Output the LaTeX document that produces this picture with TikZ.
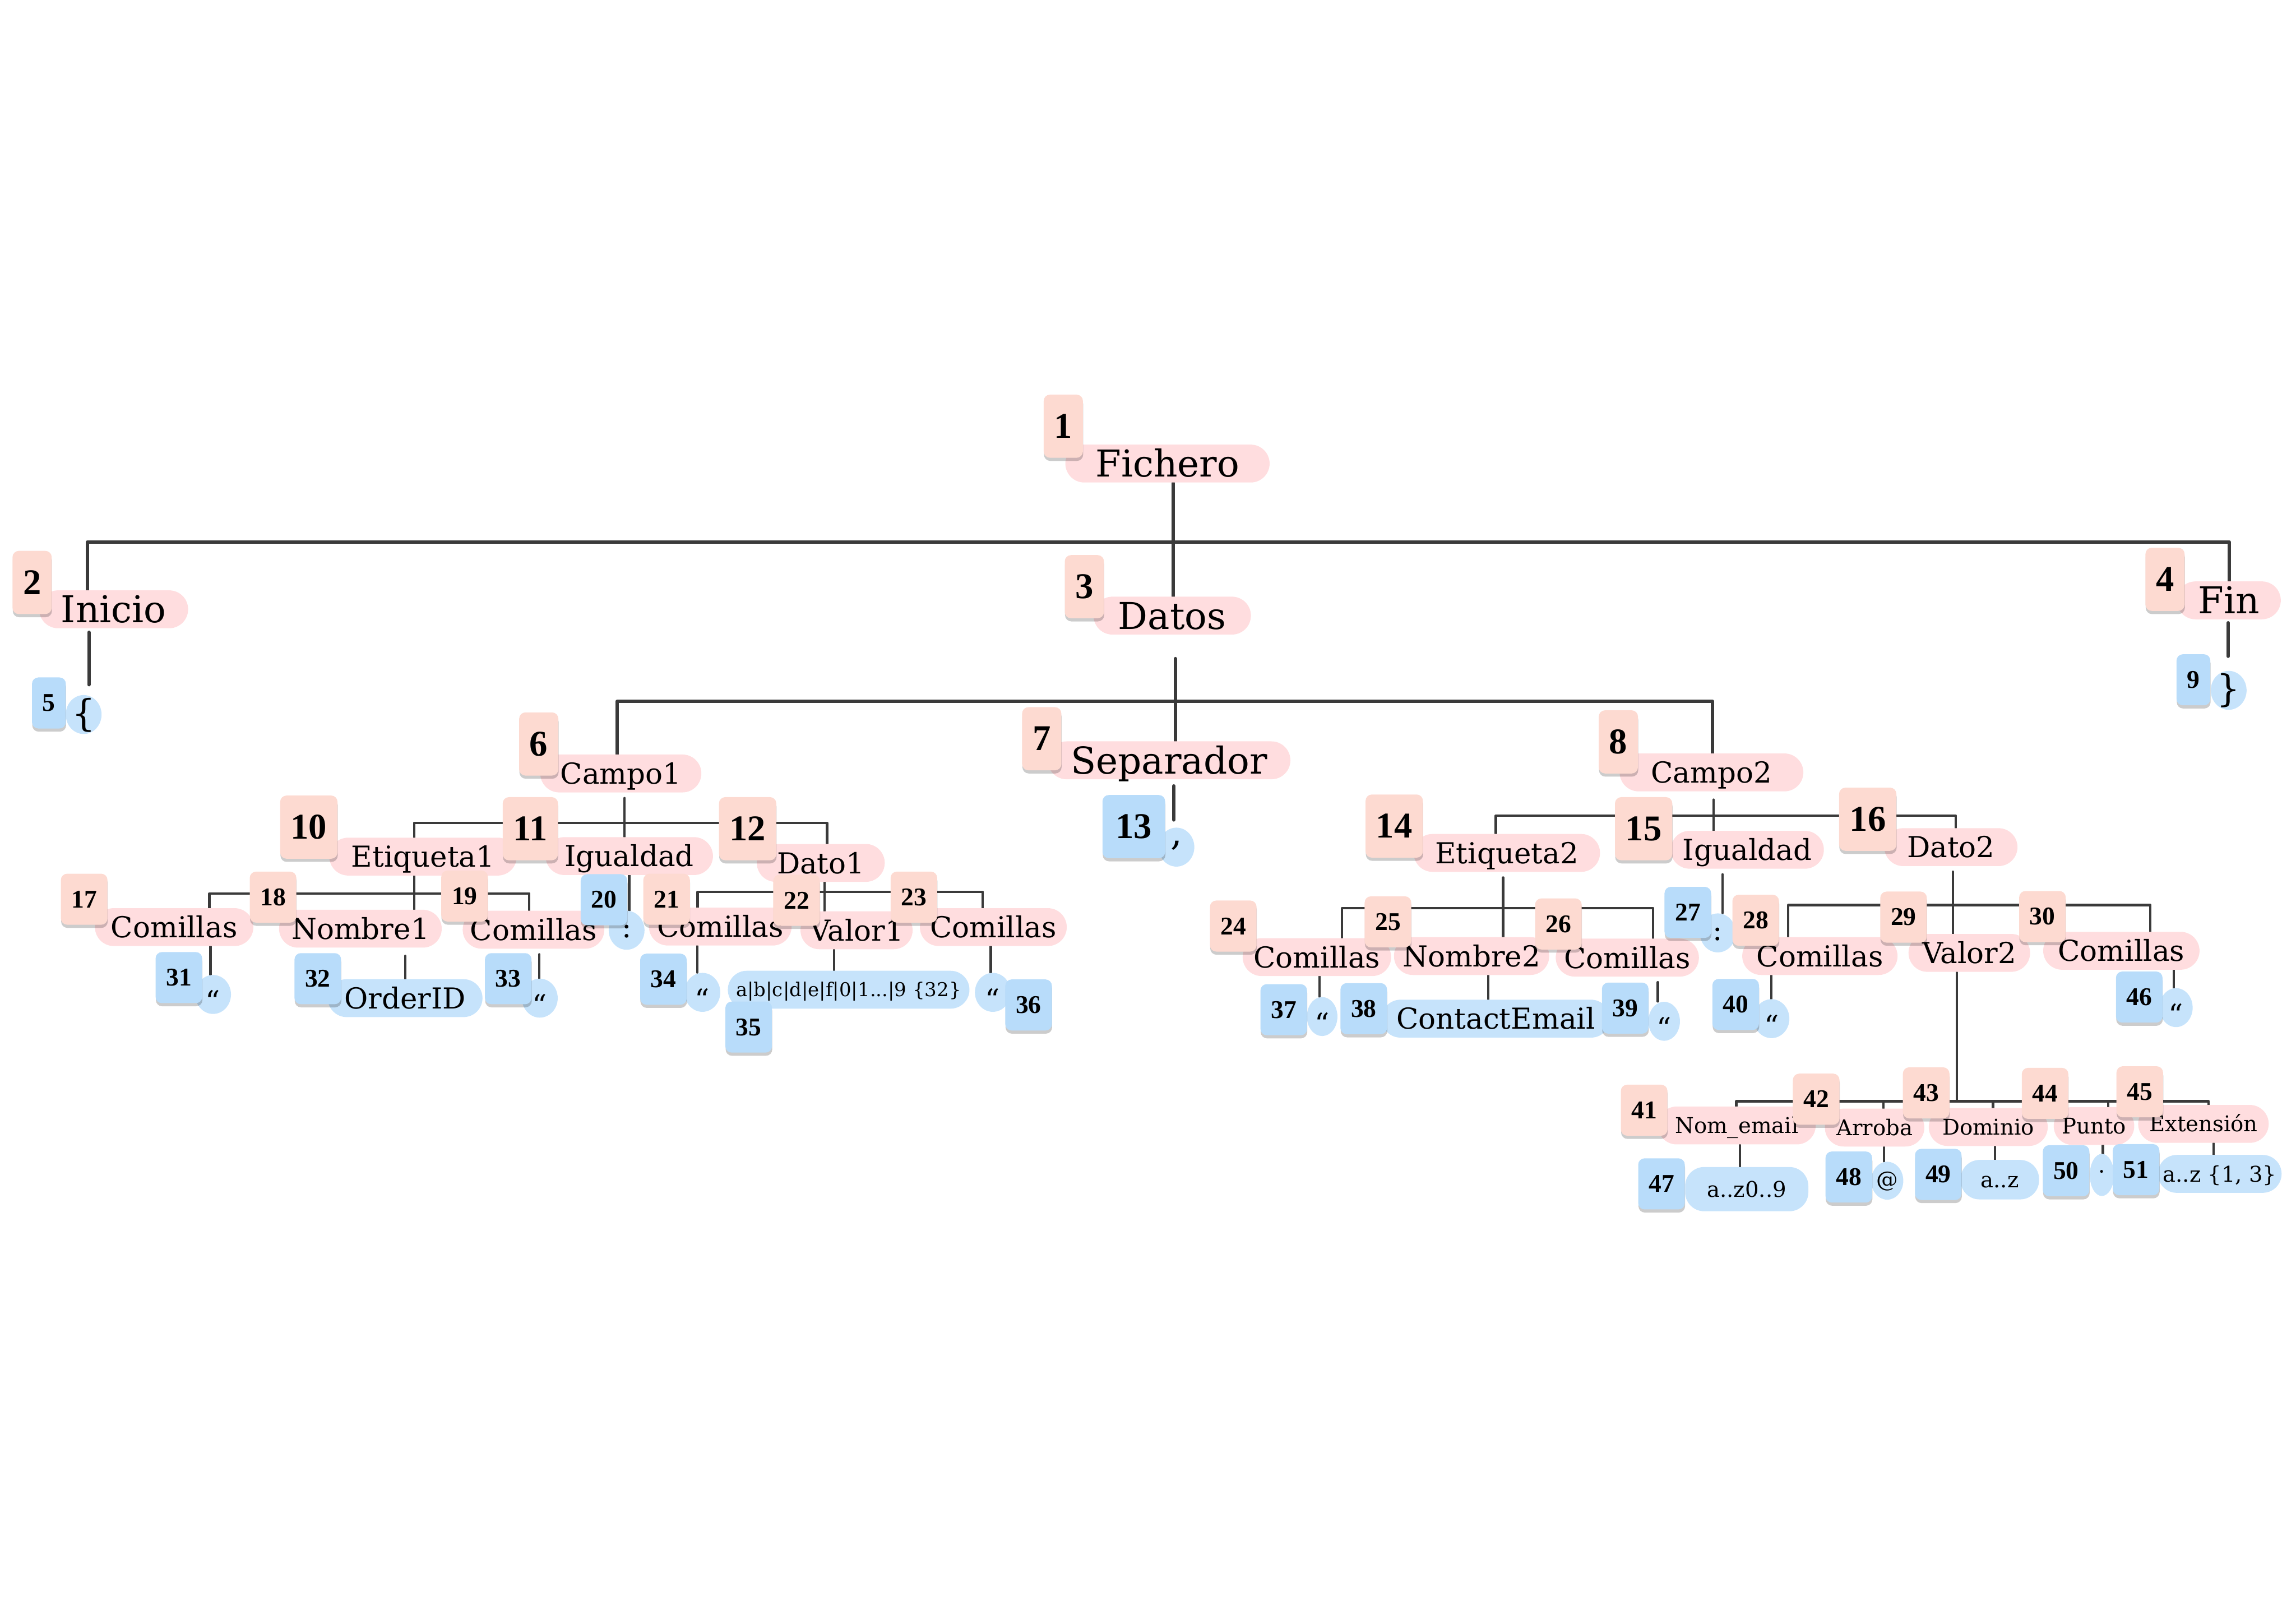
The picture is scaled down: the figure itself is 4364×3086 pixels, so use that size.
\documentclass[tikz,border=0pt]{standalone}
\usepackage{fontspec}
\setmainfont{DejaVu Serif}
\newfontfamily\numf{Liberation Serif}
\usetikzlibrary{shadows,shapes.geometric,backgrounds}
\definecolor{linec}{HTML}{3A3A3A}
\definecolor{bsal}{HTML}{FDDAD1}
\definecolor{ppink}{HTML}{FFDDDF}
\definecolor{bblue}{HTML}{B8DCFA}
\definecolor{pblue}{HTML}{C6E3FB}
\newcommand\fL{\fontsize{20pt}{24pt}\selectfont}
\newcommand\fM{\fontsize{15.6pt}{18pt}\selectfont}
\newcommand\fS{\fontsize{11.7pt}{14pt}\selectfont}
\newcommand\fXS{\fontsize{10.3pt}{12pt}\selectfont}
\newcommand\nL{\numf\bfseries\fontsize{19.6pt}{22pt}\selectfont}
\newcommand\nS{\numf\bfseries\fontsize{13.8pt}{16pt}\selectfont}
\newcommand\cc[2]{\raisebox{#1}{#2}}
\begin{document}
\begin{tikzpicture}[x=0.01cm,y=-0.01cm,
  pill/.style={rounded corners=0.36cm, minimum height=0.72cm, inner xsep=0.05cm, inner ysep=0pt, text depth=0pt},
  pL/.style={pill, fill=ppink, font=\fL, text height=0.51cm},
  pM/.style={pill, fill=ppink, font=\fM, text height=0.40cm},
  pS/.style={pill, fill=ppink, font=\fS, text height=0.30cm},
  lM/.style={pill, fill=pblue, font=\fM, text height=0.40cm},
  lS/.style={pill, fill=pblue, font=\fS, text height=0.30cm},
  lXS/.style={pill, fill=pblue, font=\fXS, text height=0.26cm},
  dotbase/.style={ellipse, fill=pblue, inner sep=0pt, minimum width=0.68cm, minimum height=0.74cm, text height=0pt, text depth=0pt},
  dotL/.style={dotbase, font=\fL},
  dotM/.style={dotbase, font=\fM},
  dotS/.style={dotbase, font=\fS},
  badge/.style={rounded corners=0.12cm, inner xsep=0.2cm, inner ysep=0pt,
    drop shadow={shadow xshift=0.005cm, shadow yshift=-0.06cm, opacity=0.2, fill=black}},
  bL/.style={badge, fill=bsal, minimum height=1.2cm, font=\nL},
  bS/.style={badge, fill=bsal, minimum height=0.97cm, font=\nS},
  bLb/.style={bL, fill=bblue},
  bSb/.style={bS, fill=bblue},
  cn/.style={draw=linec, line width=0.065cm, line cap=round, line join=round},
  ct/.style={draw=linec, line width=0.045cm, line cap=round, line join=round}
]
\useasboundingbox (0,0) rectangle (4364,3086);

% ---------- label pills ----------
\node[pL, minimum width=3.88cm] (p1) at (2219,881) {Fichero};
\node[pL, minimum width=2.83cm] (p2) at (216,1158) {Inicio};
\node[pL, minimum width=2.99cm] (p3) at (2228,1170) {Datos};
\node[pL, minimum width=1.98cm] (p4) at (4236,1141) {Fin};
\node[pL, minimum width=4.61cm] (p7) at (2222,1445) {Separador};
\node[pM, minimum width=3.06cm] (p6) at (1180,1470) {Campo1};
\node[pM, minimum width=3.49cm] (p8) at (3253,1468) {Campo2};
\node[pM, minimum width=3.56cm] (p10) at (804,1628) {Etiqueta1};
\node[pM, minimum width=3.18cm] (p11) at (1196,1627) {Igualdad};
\node[pM, minimum width=2.43cm] (p12) at (1560,1640) {Dato1};
\node[pM, minimum width=3.54cm] (p14) at (2864,1621) {Etiqueta2};
\node[pM, minimum width=2.91cm] (p15) at (3321,1615) {Igualdad};
\node[pM, minimum width=2.53cm] (p16) at (3708,1610) {Dato2};
\node[pM, minimum width=3.01cm] (p17) at (331,1762) {Comillas};
\node[pM, minimum width=3.09cm] (p18) at (685,1765) {Nombre1};
\node[pM, minimum width=2.69cm] (p19) at (1014,1767) {Comillas};
\node[pM, minimum width=2.71cm] (p21) at (1369,1761) {Comillas};
\node[pM, minimum width=2.13cm] (p22) at (1628,1768) {Valor1};
\node[pM, minimum width=2.79cm] (p23) at (1888,1762) {Comillas};
\node[pM, minimum width=2.82cm] (p24) at (2503,1819) {Comillas};
\node[pM, minimum width=2.95cm] (p25) at (2797,1817) {Nombre2};
\node[pM, minimum width=2.72cm] (p26) at (3093,1820) {Comillas};
\node[pM, minimum width=2.95cm] (p28) at (3459,1817) {Comillas};
\node[pM, minimum width=2.31cm] (p29) at (3743,1811) {Valor2};
\node[pM, minimum width=2.97cm] (p30) at (4032,1807) {Comillas};
\node[pS, minimum width=3.00cm] (p41) at (3301,2139) {Nom\_email};
\node[pS, minimum width=1.89cm] (p42) at (3563,2143) {Arroba};
\node[pS, minimum width=2.26cm] (p43) at (3779,2142) {Dominio};
\node[pS, minimum width=1.53cm] (p44) at (3980,2140) {Punto};
\node[pS, minimum width=2.48cm] (p45) at (4188,2136) {Extensión};

% ---------- terminal pills ----------
\node[lM, minimum width=2.94cm] (l32) at (770,1897) {OrderID};
\node[lM, minimum width=4.34cm] (l38) at (2843,1936) {ContactEmail};
\node[lXS, minimum width=4.59cm] (l35) at (1613,1881) {a|b|c|d|e|f|0|1...|9 \{32\}};
\node[lS, minimum width=2.34cm, minimum height=0.84cm] (l47) at (3320,2260) {a..z0..9};
\node[lS, minimum width=1.49cm, minimum height=0.75cm] (l49) at (3801,2242) {a..z};
\node[lS, minimum width=2.35cm] (l51) at (4219,2231) {a..z \{1, 3\}};

\node[dotL] (l5) at (159,1358) {\cc{-0.31em}{\{}};
\node[dotL] (l9) at (4236,1312) {\cc{-0.31em}{\}}};
\node[dotL] (l13) at (2236,1610) {\cc{0.05em}{,}};
\node[dotM] (l20) at (1191,1768) {\cc{-0.25em}{:}};
\node[dotM] (l27) at (3265,1773) {\cc{-0.25em}{:}};
\node[dotM] (l31) at (405,1890) {\cc{-0.6em}{“}};
\node[dotM] (l33) at (1026,1897) {\cc{-0.6em}{“}};
\node[dotM] (l34) at (1335,1886) {\cc{-0.6em}{“}};
\node[dotM] (l36) at (1887,1886) {\cc{-0.6em}{“}};
\node[dotM, minimum width=0.58cm] (l37) at (2513,1932) {\cc{-0.6em}{“}};
\node[dotM, minimum width=0.6cm] (l39) at (3163,1941) {\cc{-0.6em}{“}};
\node[dotM] (l40) at (3367,1936) {\cc{-0.6em}{“}};
\node[dotM, minimum width=0.63cm] (l46) at (4136,1915) {\cc{-0.6em}{“}};
\node[dotS, minimum width=0.61cm, minimum height=0.72cm] (l48) at (3587,2244) {\cc{-0.29em}{@}};
\node[dotS, minimum width=0.46cm, minimum height=0.8cm] (l50) at (3995,2233) {\cc{-0.2em}{·}};

% ---------- connectors ----------
\begin{pgfonlayer}{background}
\draw[cn] (p1.south -| 2230,0) -- (2230,1030);
\draw[cn] (p2.north -| 166,0) |- (4237,1030) -- (p4.north -| 4237,0);
\draw[cn] (2230,1030) -- (p3.north -| 2230,0);
\draw[cn, shorten <=0.07cm, shorten >=0.19cm] (p2.south -| 169,0) -- (l5.north -| 169,0);
\draw[cn, shorten <=0.06cm, shorten >=0.27cm] (p4.south -| 4235,0) -- (l9.north -| 4235,0);
\draw[cn] (p6.north -| 1173,0) |- (3255,1333) -- (p8.north -| 3255,0);
\draw[cn, shorten <=0.45cm] (p3.south -| 2234,0) -- (p7.north -| 2234,0);
\draw[cn, shorten <=0.12cm, shorten >=0.14cm] (p7.south -| 2231,0) -- (l13.north -| 2231,0);
% Campo1
\draw[ct] (p10.north -| 787,0) |- (1572,1564) -- (p12.north -| 1572,0);
\draw[ct, shorten <=0.1cm] (p6.south -| 1187,0) -- (p11.north -| 1187,0);
% Campo2
\draw[ct] (p14.north -| 2843,0) |- (3717,1550) -- (p16.north -| 3717,0);
\draw[ct, shorten <=0.15cm] (p8.south -| 3257,0) -- (p15.north -| 3257,0);
% Etiqueta1
\draw[ct] (p17.north -| 398,0) |- (1006,1698) -- (p19.north -| 1006,0);
\draw[ct] (p10.south -| 787,0) -- (p18.north -| 787,0);
% Igualdad -> :
\draw[ct] (p11.south -| 1196,0) -- (l20.north -| 1196,0);
% Dato1
\draw[ct] (p21.north -| 1326,0) |- (1868,1695) -- (p23.north -| 1868,0);
\draw[ct] (p12.south -| 1567,0) -- (p22.north -| 1567,0);
% Etiqueta2
\draw[ct] (p24.north -| 2551,0) |- (3142,1726) -- (p26.north -| 3142,0);
\draw[ct, shorten <=0.1cm] (p14.south -| 2857,0) -- (p25.north -| 2857,0);
% Igualdad2 -> :
\draw[ct, shorten <=0.1cm] (p15.south -| 3274,0) -- (l27.north -| 3274,0);
% Dato2
\draw[ct] (p28.north -| 3399,0) |- (4087,1720) -- (p30.north -| 4087,0);
\draw[ct, shorten <=0.1cm] (p16.south -| 3712,0) -- (p29.north -| 3712,0);
% Valor2
\draw[ct] (p41.north -| 3300,0) |- (4198,2093) -- (p45.north -| 4198,0);
\draw[ct] (p29.south -| 3719,0) -- (3719,2093);
\draw[ct] (3580,2093) -- (p42.north -| 3580,0);
\draw[ct] (3788,2093) -- (p43.north -| 3788,0);
\draw[ct] (4007,2093) -- (p44.north -| 4007,0);
% leaves
\draw[ct] (p17.south -| 400,0) -- (l31.north -| 400,0);
\draw[ct, shorten <=0.15cm] (p18.south -| 770,0) -- (l32.north -| 770,0);
\draw[ct, shorten <=0.1cm] (p19.south -| 1025,0) -- (l33.north -| 1025,0);
\draw[ct] (p21.south -| 1325,0) -- (l34.north -| 1325,0);
\draw[ct] (p22.south -| 1585,0) -- (l35.north -| 1585,0);
\draw[ct] (p23.south -| 1883,0) -- (l36.north -| 1883,0);
\draw[ct] (p24.south -| 2508,0) -- (l37.north -| 2508,0);
\draw[ct] (p25.south -| 2829,0) -- (l38.north -| 2829,0);
\draw[ct, shorten <=0.1cm] (p26.south -| 3151,0) -- (l39.north -| 3151,0);
\draw[ct] (p28.south -| 3367,0) -- (l40.north -| 3367,0);
\draw[ct] (p30.south -| 4132,0) -- (l46.north -| 4132,0);
\draw[ct] (p41.south -| 3307,0) -- (l47.north -| 3307,0);
\draw[ct] (p42.south -| 3581,0) -- (l48.north -| 3581,0);
\draw[ct] (p43.south -| 3792,0) -- (l49.north -| 3792,0);
\draw[ct] (p44.south -| 3997,0) -- (l50.north -| 3997,0);
\draw[ct] (p45.south -| 4207,0) -- (l51.north -| 4207,0);
\end{pgfonlayer}

% ---------- number badges ----------
\node[bL] (b1) at (2021,810) {1};
\node[bL] (b2) at (61,1107) {2};
\node[bL] (b3) at (2061,1115) {3};
\node[bL] (b4) at (4115,1101) {4};
\node[bL] (b6) at (1024,1414) {6};
\node[bL] (b7) at (1980,1404) {7};
\node[bL] (b8) at (3076,1410) {8};
\node[bL] (b10) at (587,1572) {10};
\node[bL] (b11) at (1008,1575) {11};
\node[bL] (b12) at (1421,1575) {12};
\node[bLb, minimum width=1.19cm] (b13) at (2155,1571) {13};
\node[bL] (b14) at (2650,1570) {14};
\node[bL] (b15) at (3124,1575) {15};
\node[bL] (b16) at (3550,1557) {16};
\node[bSb] (b5) at (93,1336) {5};
\node[bSb] (b9) at (4169,1292) {9};
\node[bS] (b17) at (160,1709) {17};
\node[bS] (b18) at (519,1705) {18};
\node[bS] (b19) at (883,1703) {19};
\node[bSb] (b20) at (1148,1710) {20};
\node[bS] (b21) at (1267,1709) {21};
\node[bS] (b22) at (1514,1711) {22};
\node[bS] (b23) at (1737,1705) {23};
\node[bS] (b24) at (2344,1760) {24};
\node[bS] (b25) at (2638,1752) {25};
\node[bS] (b26) at (2962,1756) {26};
\node[bSb] (b27) at (3208,1734) {27};
\node[bS] (b28) at (3337,1749) {28};
\node[bS] (b29) at (3618,1743) {29};
\node[bS] (b30) at (3882,1742) {30};
\node[bSb] (b31) at (340,1858) {31};
\node[bSb] (b32) at (604,1860) {32};
\node[bSb] (b33) at (966,1860) {33};
\node[bSb] (b34) at (1261,1861) {34};
\node[bSb] (b35) at (1423,1952) {35};
\node[bSb] (b36) at (1955,1910) {36};
\node[bSb] (b37) at (2440,1919) {37};
\node[bSb] (b38) at (2592,1917) {38};
\node[bSb] (b39) at (3089,1916) {39};
\node[bSb] (b40) at (3299,1909) {40};
\node[bS] (b41) at (3125,2110) {41};
\node[bS] (b42) at (3452,2089) {42};
\node[bS] (b43) at (3661,2077) {43};
\node[bS] (b44) at (3887,2078) {44};
\node[bS] (b45) at (4067,2075) {45};
\node[bSb] (b46) at (4066,1895) {46};
\node[bSb] (b47) at (3158,2250) {47};
\node[bSb] (b48) at (3514,2237) {48};
\node[bSb] (b49) at (3684,2232) {49};
\node[bSb] (b50) at (3927,2225) {50};
\node[bSb] (b51) at (4060,2223) {51};
\end{tikzpicture}
\end{document}
